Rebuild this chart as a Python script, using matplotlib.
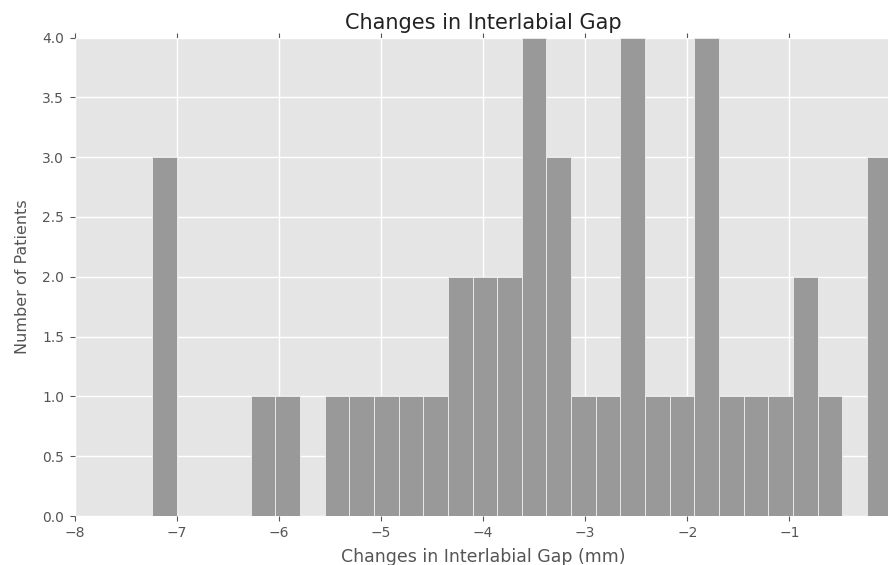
import numpy as np
import matplotlib
matplotlib.use("Agg")
import matplotlib.pyplot as plt

# Histogram of interlabial gap changes: 30 equal bins from -7.24 to 0 mm
gap_min = -7.24
gap_max = 0.0
n_bins = 30
patient_counts = [3, 0, 0, 0, 1, 1, 0, 1, 1, 1,
                  1, 1, 2, 2, 2, 4, 3, 1, 1, 4,
                  1, 1, 4, 1, 1, 1, 2, 1, 0, 3]
x_ticks = [-8, -7, -6, -5, -4, -3, -2, -1, 0]
y_ticks = [0.0, 0.5, 1.0, 1.5, 2.0, 2.5, 3.0, 3.5, 4.0]

edges = np.linspace(gap_min, gap_max, n_bins + 1)
centers = (edges[:-1] + edges[1:]) / 2

W, H = 888, 565
fig = plt.figure(figsize=(W / 100, H / 100), dpi=100)
left, right, top, bottom = 74.6, 891.5, 37.5, 516.0
ax = fig.add_axes([left / W, 1 - bottom / H, (right - left) / W, (bottom - top) / H])

ax.set_facecolor("#E5E5E5")
ax.set_axisbelow(True)
ax.grid(True, color="white", linewidth=1.0)

ax.hist(centers, bins=edges, weights=patient_counts,
        color="#999999", edgecolor="#EEEEEE", linewidth=0.6)

ax.set_xlim(-8, 0)
ax.set_ylim(0, 4)
ax.set_xticks(x_ticks)
ax.set_yticks(y_ticks)
ax.set_yticklabels([f"{v:.1f}" for v in y_ticks])

for s in ax.spines.values():
    s.set_visible(False)

ax.tick_params(axis="both", direction="out", length=3.5, width=0.8,
               color="#555555", labelcolor="#555555", labelsize=10,
               top=True, right=True, pad=4)

ax.set_title("Changes in Interlabial Gap", fontsize=15, color="#222222", pad=6)
ax.set_xlabel("Changes in Interlabial Gap (mm)", fontsize=12.5, color="#555555", labelpad=5.5)
ax.set_ylabel("Number of Patients", fontsize=11.5, color="#555555", labelpad=9)

fig.savefig("out.png", dpi=100)
